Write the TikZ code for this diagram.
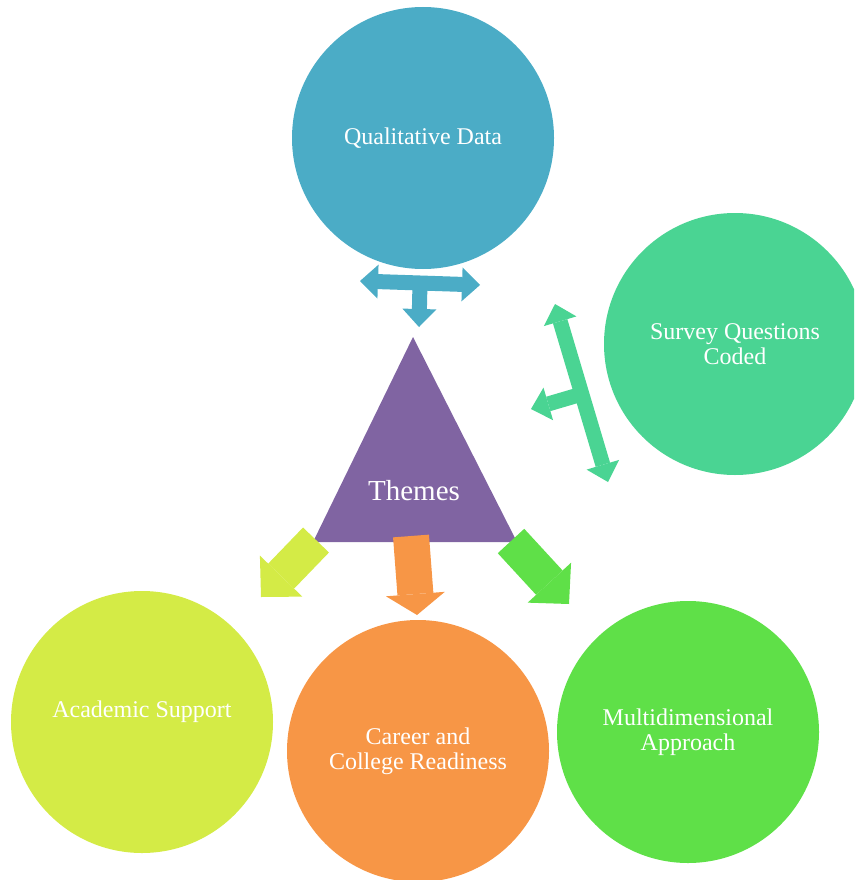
\documentclass[tikz,border=0pt]{standalone}
\usepackage{fontspec}
\setmainfont{Liberation Serif}
\usetikzlibrary{arrows.meta}
\definecolor{qualblue}{HTML}{4BACC6}
\definecolor{surveygreen}{HTML}{4AD493}
\definecolor{acadyellow}{HTML}{D4EB46}
\definecolor{careerorange}{HTML}{F79646}
\definecolor{multigreen}{HTML}{5FE048}
\definecolor{themepurple}{HTML}{8064A2}

\begin{document}
\begin{tikzpicture}[
    x=1pt, y=-1pt,
    bubble/.style={circle, minimum size=262pt, inner sep=0pt, text=white, align=center,
                   font=\fontsize{24}{25}\selectfont},
    thintip/.tip={Triangle[length=18pt, width=34pt, line width=0pt]},
    thinarrow/.style={line width=15pt, thintip-thintip},
    branch/.style={line width=15pt, -thintip},
    fat/.style={line width=36pt, -{Triangle[length=#1, width=59pt, line width=0pt]}},
    fat/.default=29pt
]
    \clip (0,0) rectangle (854,880);

    % Circles
    \node[bubble, fill=qualblue] (qual) at (423,138) {Qualitative Data};
    \node[bubble, fill=surveygreen] (survey) at (735,344) {Survey Questions\\Coded};
    \node[bubble, fill=acadyellow, text depth=26pt] (academic) at (142,722) {Academic Support};
    \node[bubble, fill=careerorange] (career) at (418,751) {Career and\\College Readiness};
    \node[bubble, fill=multigreen] (multi) at (688,732) {Multidimensional\\Approach};

    % Triangle
    \fill[themepurple] (413,337) coordinate (apex) -- (517,542) coordinate (baseR)
        -- (313,542) coordinate (baseL) -- cycle;
    \node[text=white, font=\fontsize{29}{30}\selectfont] (themes) at (414,491) {Themes};

    % Arrow ends
    \coordinate (qualL) at (360,281);
    \coordinate (qualR) at (480,285);
    \coordinate (qualJ) at (420,283);
    \coordinate (qualT) at (419,327);
    \coordinate (surveyT) at (555,304);
    \coordinate (surveyB) at (608,482);
    \coordinate (surveyJ) at (582,394);
    \coordinate (surveyE) at (531,409);
    \coordinate (acadS) at (316,540);
    \coordinate (acadE) at (261,597);
    \coordinate (careerS) at (411,536);
    \coordinate (careerE) at (417,615);
    \coordinate (multiS) at (511,541);
    \coordinate (multiE) at (569,604);

    % Inputs
    \draw[qualblue, thinarrow] (qualL) -- (qualR);
    \draw[qualblue, branch] (qualJ) -- (qualT);
    \draw[surveygreen, thinarrow] (surveyT) -- (surveyB);
    \draw[surveygreen, branch] (surveyJ) -- (surveyE);

    % Outputs
    \draw[acadyellow, fat] (acadS) -- (acadE);
    \draw[careerorange, fat=21pt] (careerS) -- (careerE);
    \draw[multigreen, fat] (multiS) -- (multiE);

\end{tikzpicture}
\end{document}
